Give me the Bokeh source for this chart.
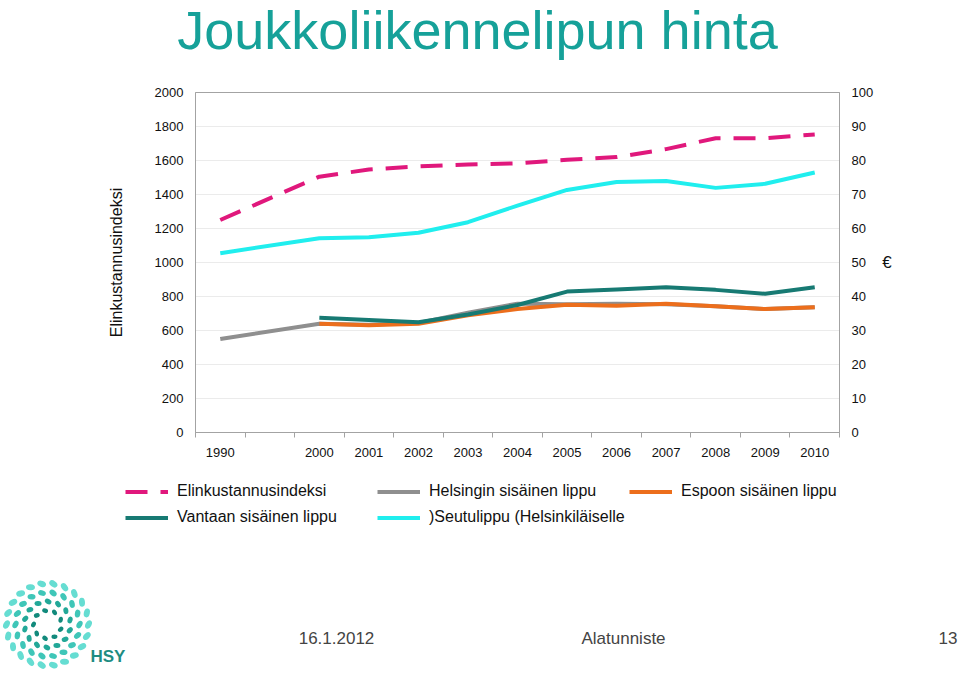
import math
from bokeh.plotting import figure
from bokeh.models import Range1d, LinearAxis, FixedTicker, Legend, LegendItem, ColumnDataSource
from bokeh.layouts import column, row
from bokeh.embed import file_html
from bokeh.resources import INLINE
from bokeh.core.properties import value

# ---------------- data ----------------
years = ["1990", "", "2000", "2001", "2002", "2003", "2004", "2005", "2006",
         "2007", "2008", "2009", "2010"]
data_years = ["1990", "2000", "2001", "2002", "2003", "2004", "2005", "2006",
              "2007", "2008", "2009", "2010"]
elinkustannusindeksi = [1250, 1505, 1547, 1565, 1577, 1583, 1604, 1620, 1667, 1731, 1731, 1753]
helsingin = [550, 640, 634, 645, 704, 758, 755, 757, 755, 743, 726, 737]
espoon = [None, 639, 631, 639, 690, 727, 751, 745, 757, 743, 726, 737]
vantaan = [None, 675, 662, 649, 694, 750, 829, 841, 855, 839, 816, 855]
seutulippu = [1055, 1143, 1149, 1175, 1237, 1335, 1427, 1473, 1480, 1439, 1463, 1529]
series_labels = ["Elinkustannusindeksi", "Helsingin sisäinen lippu", "Espoon sisäinen lippu",
                 "Vantaan sisäinen lippu", ")Seutulippu (Helsinkiläiselle"]
left_ticks = list(range(0, 2001, 200))
right_ticks = list(range(0, 101, 10))
title_text = "Joukkoliikennelipun hinta"
left_axis_title = "Elinkustannusindeksi"
right_axis_title = "€"
footer_texts = ["16.1.2012", "Alatunniste", "13"]

# ---------------- styles ----------------
FONT = "Liberation Sans"
colors = ["#e0187c", "#8f8f8f", "#ec6e1c", "#177a73", "#20eeee"]
dashes = ["22 13", "solid", "solid", "solid", "solid"]
AXIS_COL = "#a3a3a3"
TXT = "#111111"
BASE_SHIFT = 0.36   # alphabetic baseline correction (fraction of font size)

W = 958
HEAD_H = 80
FRAME_L, FRAME_R, FRAME_T, FRAME_B = 195, 839, 92, 432   # page coords
MAIN_BOTTOM = 470
LEG_H = 76
FOOT_H = 126


def blank_fig(h):
    fg = figure(width=W, height=h, output_backend="svg", toolbar_location=None, title=None,
                x_range=Range1d(0, W), y_range=Range1d(h, 0),
                min_border_left=0, min_border_right=0, min_border_top=0, min_border_bottom=0,
                x_axis_type=None, y_axis_type=None, background_fill_color="white",
                border_fill_color="white")
    fg.outline_line_color = None
    fg.grid.visible = False
    return fg


# ---------------- header (title) ----------------
hdr = blank_fig(HEAD_H)
TS = 54
hdr.text(x=[477], y=[49 - BASE_SHIFT * TS], text=[title_text], text_font=value(FONT),
         text_font_size=f"{TS}px", text_color="#16a199", text_baseline="alphabetic",
         text_align="center")

# ---------------- main chart ----------------
MAIN_H = MAIN_BOTTOM - HEAD_H
p = figure(width=W, height=MAIN_H, output_backend="svg", toolbar_location=None, title=None,
           x_range=Range1d(0, len(years)), y_range=Range1d(0, 2000),
           min_border_left=FRAME_L, min_border_right=W - FRAME_R,
           min_border_top=FRAME_T - HEAD_H, min_border_bottom=MAIN_BOTTOM - FRAME_B,
           background_fill_color="white", border_fill_color="white")
p.outline_line_color = AXIS_COL
p.outline_line_width = 1

xt = FixedTicker(ticks=[i + 0.5 for i in range(len(years))],
                 minor_ticks=list(range(len(years) + 1)))
xa = p.xaxis[0]
xa.ticker = xt
xa.major_label_overrides = {i + 0.5: (y if y else " ") for i, y in enumerate(years)}
xa.major_tick_line_color = None
xa.major_tick_out = 0
xa.major_tick_in = 0
xa.minor_tick_line_color = AXIS_COL
xa.minor_tick_out = 5
xa.minor_tick_in = 0
xa.axis_line_color = AXIS_COL
xa.major_label_standoff = 7
xa.major_label_text_font = FONT
xa.major_label_text_font_size = "13px"
xa.major_label_text_color = TXT

ya = p.yaxis[0]
ya.ticker = FixedTicker(ticks=left_ticks)
ya.major_tick_line_color = None
ya.minor_tick_line_color = None
ya.major_tick_out = 0
ya.axis_line_color = AXIS_COL
ya.major_label_standoff = 12
ya.major_label_text_font = FONT
ya.major_label_text_font_size = "13px"
ya.major_label_text_color = TXT
ya.axis_label = left_axis_title
ya.axis_label_text_font = FONT
ya.axis_label_text_font_size = "16px"
ya.axis_label_text_font_style = "normal"
ya.axis_label_text_color = TXT
ya.axis_label_standoff = 27

p.extra_y_ranges = {"eur": Range1d(0, 100)}
ra = LinearAxis(y_range_name="eur", ticker=FixedTicker(ticks=right_ticks))
ra.major_tick_line_color = None
ra.minor_tick_line_color = None
ra.major_tick_out = 0
ra.axis_line_color = AXIS_COL
ra.major_label_standoff = 12
ra.major_label_text_font = FONT
ra.major_label_text_font_size = "13px"
ra.major_label_text_color = TXT
ra.axis_label = right_axis_title
ra.axis_label_text_font = FONT
ra.axis_label_text_font_size = "17px"
ra.axis_label_text_font_style = "normal"
ra.axis_label_text_color = TXT
ra.axis_label_standoff = 6
try:
    ra.axis_label_orientation = "horizontal"
except AttributeError:
    pass
p.add_layout(ra, "right")

p.xgrid.visible = False
p.ygrid.ticker = FixedTicker(ticks=left_ticks)
p.ygrid.grid_line_color = "#ebebeb"
p.ygrid.grid_line_width = 1

all_series = [elinkustannusindeksi, helsingin, espoon, vantaan, seutulippu]
for vals, col, dash in zip(all_series, colors, dashes):
    xs = [years.index(yr) + 0.5 for yr, v in zip(data_years, vals) if v is not None]
    ys = [v for v in vals if v is not None]
    src = ColumnDataSource(dict(x=xs, y=ys))
    p.line("x", "y", source=src, line_color=col, line_width=4, line_dash=dash,
           line_join="round", line_cap="butt")

# ---------------- legend strip ----------------
lg = blank_fig(LEG_H)
leg_renderers = []
for col, dash in zip(colors, dashes):
    # single off-screen point: only the legend swatch is visible
    leg_renderers.append(lg.line(x=[-50, -40], y=[-50, -50], line_color=col, line_width=4,
                                 line_dash=dash, line_cap="butt"))
LEG_BOTTOM = 528.5
legend = Legend(items=[LegendItem(label=l, renderers=[r]) for l, r in zip(series_labels, leg_renderers)],
                location=(125, LEG_H - (LEG_BOTTOM - MAIN_BOTTOM)), orientation="horizontal",
                ncols=3, glyph_width=43, glyph_height=23, label_height=23, label_width=197,
                label_standoff=9, spacing=3, padding=0, margin=0,
                border_line_color=None, background_fill_alpha=0,
                label_text_font=FONT, label_text_font_size="16px", label_text_color=TXT)
lg.add_layout(legend)

# ---------------- footer (logo + texts) ----------------
foot_top = MAIN_BOTTOM + LEG_H
f = blank_fig(FOOT_H)
cx, cy = 47, 624 - foot_top
rings = [(41, 22, "#66ddd2", 6.0, 9.0), (32, 18, "#3fc6b8", 5.5, 8.0),
         (23, 14, "#22a898", 5.0, 7.0), (14, 9, "#128a7c", 4.5, 6.0)]
lx, ly, lc, lw, lh, la = [], [], [], [], [], []
for k, (rad, n, colr, ew, eh) in enumerate(rings):
    for i in range(n):
        th = 2 * math.pi * i / n + k * 0.35
        lx.append(cx + rad * math.cos(th))
        ly.append(cy + rad * math.sin(th))
        lc.append(colr)
        lw.append(ew)
        lh.append(eh)
        la.append(-(th + 0.5))
f.ellipse(x=lx, y=ly, width=lw, height=lh, angle=la, fill_color=lc, line_color=None)
HS = 17
f.text(x=[90], y=[662 - foot_top - BASE_SHIFT * HS], text=["HSY"], text_font=value(FONT),
       text_font_size=f"{HS}px", text_font_style="bold", text_color="#1e8c82",
       text_baseline="alphabetic")
FS = 17
f.text(x=[336, 623, 957], y=[644 - foot_top - BASE_SHIFT * FS] * 3, text=footer_texts,
       text_font=value(FONT), text_font_size=f"{FS}px", text_color="#444444",
       text_baseline="alphabetic", text_align=["center", "center", "right"])

layout = column(row(hdr), p, row(lg), row(f), spacing=0)
open("out.html", "w").write(file_html(layout, INLINE))
